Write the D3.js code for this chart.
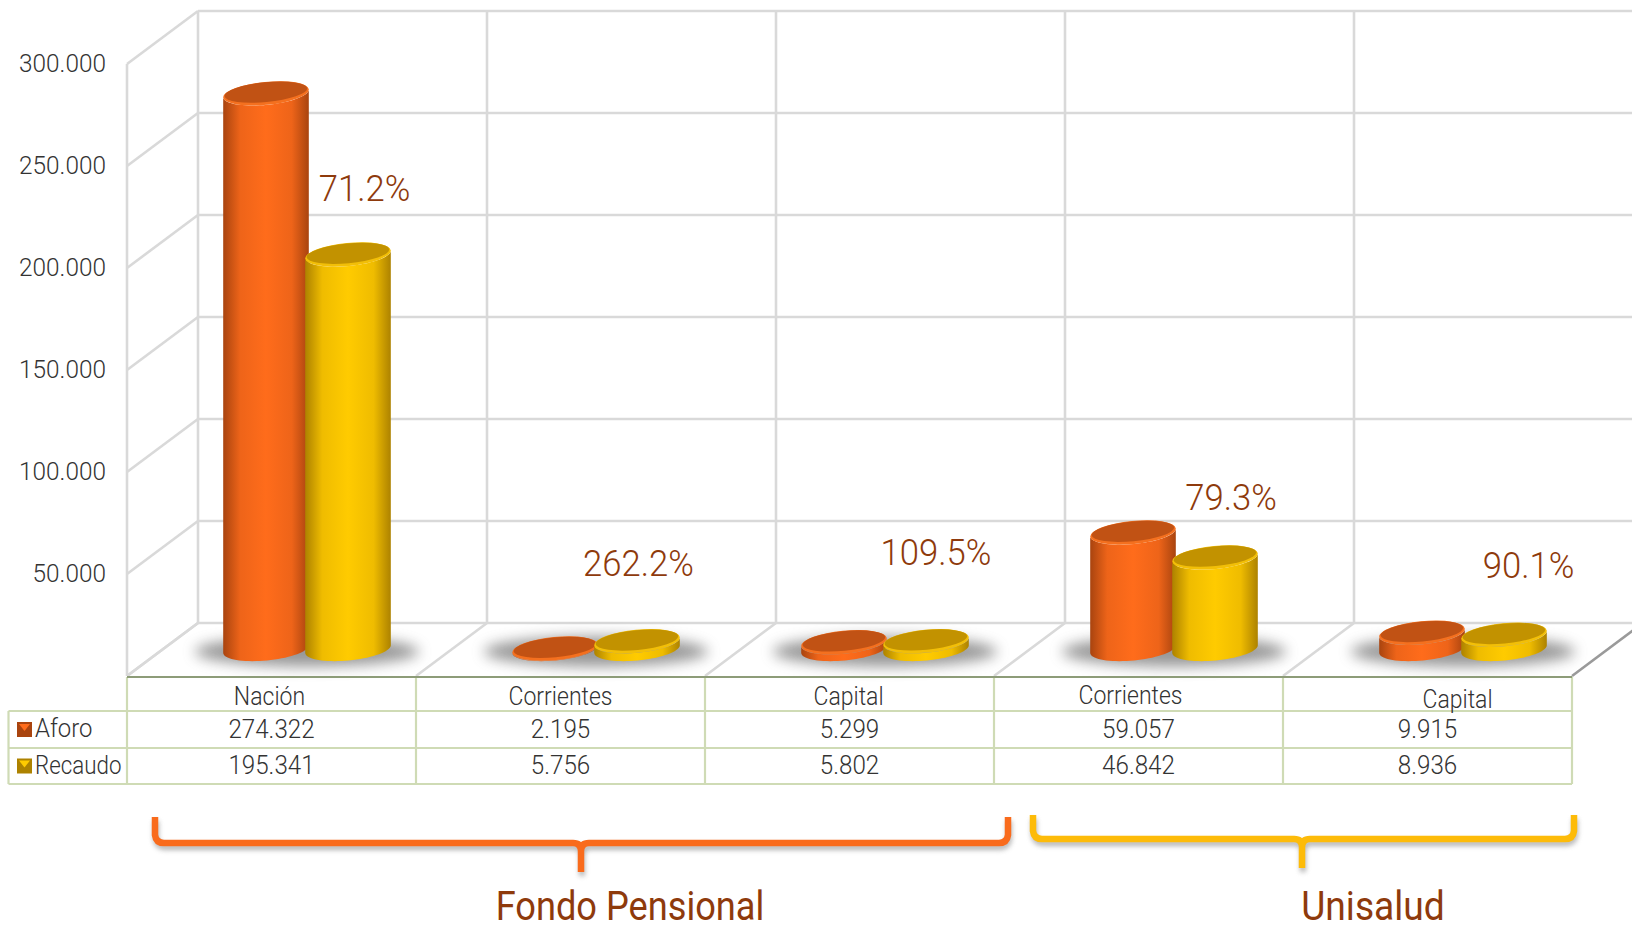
<!DOCTYPE html>
<html><head><meta charset="utf-8">
<style>html,body{margin:0;padding:0;background:#fff;overflow:hidden}svg{display:block}text{font-family:Roboto,sans-serif}</style>
<script src="https://cdnjs.cloudflare.com/ajax/libs/d3/7.8.5/d3.min.js"></script>
</head><body><svg id="c" width="1632" height="925"></svg>
<script>
const categories=["Nación","Corrientes","Capital","Corrientes","Capital"];
const aforo=[274322,2195,5299,59057,9915];
const recaudo=[195341,5756,5802,46842,8936];
const aforoLabels=["274.322","2.195","5.299","59.057","9.915"];
const recaudoLabels=["195.341","5.756","5.802","46.842","8.936"];
const pctLabels=["71.2%","262.2%","109.5%","79.3%","90.1%"];
const yTicks=[50000,100000,150000,200000,250000,300000];
const yTickLabels=["50.000","100.000","150.000","200.000","250.000","300.000"];
const groups=["Fondo Pensional","Unisalud"];

// layout
const svg=d3.select("#c");
const depth={dx:71,dy:-53};
const y=d3.scaleLinear().domain([0,300000]).range([676,64]);
const x=d3.scaleBand().domain(d3.range(categories.length)).range([127,1572]);
const W=1632, grid="#D9D9D9", tbl="#CFDBB5";
const textDark="#333333", brown="#8E3A0C";
const colors=[{id:"o",edge:"#A9440F",mid:"#FF6C1B",cap:"#C15214",rim:"#F4701F"},
              {id:"y",edge:"#AD8200",mid:"#FFCB00",cap:"#C29200",rim:"#F2BF08"}];

const defs=svg.append("defs");
colors.forEach(c=>{
  const g=defs.append("linearGradient").attr("id","g"+c.id);
  [[0,c.edge],[.2,d3.interpolateRgb(c.edge,c.mid)(.8)],[.5,c.mid],[.8,d3.interpolateRgb(c.edge,c.mid)(.8)],[1,c.edge]]
    .forEach(s=>g.append("stop").attr("offset",s[0]).attr("stop-color",s[1]));
});
defs.append("filter").attr("id","blur").attr("x","-30%").attr("y","-80%").attr("width","160%").attr("height","260%")
  .append("feGaussianBlur").attr("stdDeviation",7);
defs.append("filter").attr("id","blur2").attr("x","-5%").attr("y","-30%").attr("width","110%").attr("height","160%")
  .append("feGaussianBlur").attr("stdDeviation",2.5);

function label(g,txt,px,py,size,sx,fill,weight,anchor){
  return g.append("text").attr("transform",`translate(${px},${py}) scale(${sx},1)`)
   .attr("text-anchor",anchor||"middle").attr("font-size",size).attr("font-weight",weight||300).attr("fill",fill).text(txt);
}

// walls
const wall=svg.append("g").attr("fill","none").attr("stroke",grid).attr("stroke-width",2.6);
const front=d3.range(categories.length+1).map(i=>i<categories.length?x(i):x.range()[1]);
[0].concat(yTicks).forEach(v=>{
  const yy=y(v);
  wall.append("line").attr("x1",127).attr("x2",127+depth.dx).attr("y1",yy).attr("y2",yy+depth.dy);
  wall.append("line").attr("x1",127+depth.dx).attr("x2",W).attr("y1",yy+depth.dy).attr("y2",yy+depth.dy);
});
wall.append("line").attr("x1",127).attr("x2",127).attr("y1",y(300000)).attr("y2",y(0));
front.forEach((f,i)=>{
  wall.append("line").attr("x1",f+depth.dx).attr("x2",f+depth.dx).attr("y1",y(300000)+depth.dy).attr("y2",y(0)+depth.dy);
  wall.append("line").attr("x1",f).attr("x2",f+depth.dx).attr("y1",y(0)).attr("y2",y(0)+depth.dy)
    .attr("stroke",i===front.length-1?"#9a9a9a":grid);
});

// y tick labels
const ya=svg.append("g");
yTicks.forEach((t,i)=>label(ya,yTickLabels[i],106,y(t)+8,26.5,.92,textDark,300,"end"));

// cylinders
const rx=43, ry=11.5, tilt=-5.5*Math.PI/180;
const gap=41, topDrop=3.5;
const floorY=v=>y(v)+depth.dy/2;
const cx=(i,k)=>x(i)+x.bandwidth()/2+depth.dx/2+(k===0?-gap:gap);
const ell=(X,Y,t)=>[X+rx*Math.cos(t)*Math.cos(tilt)-ry*Math.sin(t)*Math.sin(tilt),
                    Y+rx*Math.cos(t)*Math.sin(tilt)+ry*Math.sin(t)*Math.cos(tilt)];
const angles=d3.range(0,37).map(k=>k*Math.PI/36);
const bars=svg.append("g");
const deg=tilt*180/Math.PI;
categories.forEach((_,i)=>{
  const mid=(cx(i,0)+cx(i,1))/2;
  bars.append("ellipse").attr("cx",mid).attr("cy",floorY(0)+2).attr("rx",112).attr("ry",15)
    .attr("fill","#6f6f6f").attr("opacity",.72).attr("filter","url(#blur)");
  [aforo[i],recaudo[i]].forEach((v,k)=>{
    const c=colors[k], X=cx(i,k), y0=floorY(0)-.5, y1=floorY(v)+topDrop;
    const p=d3.path();
    angles.forEach((a,n)=>{const q=ell(X,y0,a); n?p.lineTo(q[0],q[1]):p.moveTo(q[0],q[1]);});
    angles.slice().reverse().forEach(a=>{const q=ell(X,y1,a); p.lineTo(q[0],q[1]);});
    p.closePath();
    bars.append("path").attr("d",p.toString()).attr("fill",`url(#g${c.id})`);
    const rot=`rotate(${deg} ${X} ${y1})`;
    bars.append("ellipse").attr("cx",X).attr("cy",y1).attr("rx",rx).attr("ry",ry).attr("transform",rot).attr("fill",c.rim);
    bars.append("ellipse").attr("cx",X).attr("cy",y1-1.2).attr("rx",rx-1.5).attr("ry",ry-1.6).attr("transform",rot).attr("fill",c.cap);
  });
});

// data table
const rowY=[677,711,748,784];
const t=svg.append("g").attr("fill","none").attr("stroke",tbl).attr("stroke-width",2.2);
rowY.forEach((r,i)=>t.append("line").attr("x1",i===0?127:8.5).attr("x2",1572).attr("y1",r).attr("y2",r));
front.forEach(f=>t.append("line").attr("x1",f).attr("x2",f).attr("y1",677).attr("y2",784));
t.append("line").attr("x1",8.5).attr("x2",8.5).attr("y1",711).attr("y2",784);
svg.append("line").attr("x1",127).attr("x2",1572).attr("y1",677).attr("y2",677).attr("stroke","#8D9C78").attr("stroke-width",2);

const tt=svg.append("g");
const catDx=[-2,0,-1,-8,30], catDy=[0,0,0,-1,3];
categories.forEach((c,i)=>{
  const px=x(i)+x.bandwidth()/2;
  label(tt,c,px+catDx[i],705+catDy[i],26,.885,textDark);
  label(tt,aforoLabels[i],px,737.5,26,.93,textDark);
  label(tt,recaudoLabels[i],px,774,26,.93,textDark);
});
[["Aforo",colors[0],737,.92],["Recaudo",colors[1],773.5,.86]].forEach(r=>{
  label(tt,r[0],35,r[2],26,r[3],textDark,300,"start");
  const sy=r[2]-15;
  tt.append("rect").attr("x",17).attr("y",sy).attr("width",15).attr("height",15).attr("fill",r[1].edge);
  tt.append("path").attr("d",`M19,${sy+2}H30L24.5,${sy+9}Z`).attr("fill",r[1].mid);
});

// percentages
const pctPos=[[364.5,201],[638.5,576],[936,565],[1231,510],[1528.5,578]];
const pc=svg.append("g");
pctLabels.forEach((p,i)=>label(pc,p,pctPos[i][0],pctPos[i][1],36.5,.95,brown,300));

// brackets
const braces=[{l:155,r:1008,c:581,top:817,yy:843,tip:872,col:"#F96B1C",tx:630,sx:.905},
              {l:1033,r:1574,c:1302,top:815,yy:839,tip:868,col:"#FDBB09",tx:1373,sx:.93}];
braces.forEach((b,i)=>{
  const p=d3.path();
  p.moveTo(b.l,b.top); p.lineTo(b.l,b.yy-8); p.quadraticCurveTo(b.l+1,b.yy,b.l+9,b.yy);
  p.lineTo(b.c-8,b.yy); p.quadraticCurveTo(b.c,b.yy,b.c,b.yy+8); p.lineTo(b.c,b.tip);
  p.moveTo(b.c,b.yy+8); p.quadraticCurveTo(b.c,b.yy,b.c+8,b.yy);
  p.lineTo(b.r-9,b.yy); p.quadraticCurveTo(b.r-1,b.yy,b.r,b.yy-8); p.lineTo(b.r,b.top);
  svg.append("path").attr("d",p.toString()).attr("fill","none").attr("stroke","#777").attr("stroke-width",6)
    .attr("opacity",.55).attr("transform","translate(1,4)").attr("filter","url(#blur2)");
  svg.append("path").attr("d",p.toString()).attr("fill","none").attr("stroke",b.col).attr("stroke-width",6.5);
  label(svg,groups[i],b.tx,920,40,b.sx,brown,400);
});
</script></body></html>
